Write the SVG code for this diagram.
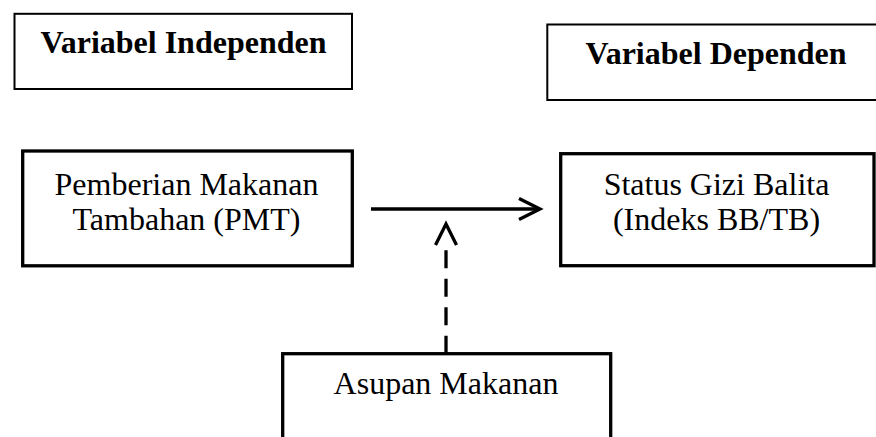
<svg xmlns="http://www.w3.org/2000/svg" width="876" height="437" viewBox="0 0 876 437">
  <style>
    .bg { fill: #ffffff; }
    .thin { fill: #ffffff; stroke: #000000; stroke-width: 2; }
    .thick { fill: #ffffff; stroke: #000000; stroke-width: 3.3; }
    .t { font-family: "Liberation Serif", "Times New Roman", serif; font-size: 32px; fill: #000000; text-anchor: middle; }
    .b { font-weight: bold; }
    .conn { fill: none; stroke: #000000; stroke-width: 3.3; }
    .dash { stroke-dasharray: 18 10.5 18 10.5 18 10.5 18 30; }
  </style>
  <defs>
    <marker id="chev" markerUnits="userSpaceOnUse" markerWidth="30" markerHeight="30" viewBox="-26 -15 30 30" refX="0" refY="0" orient="auto" overflow="visible">
      <path d="M -21 -10.5 L 0 0 L -21 10.5" fill="none" stroke="#000000" stroke-width="3.3" stroke-linejoin="miter" stroke-linecap="butt"/>
    </marker>
  </defs>
  <rect class="bg" x="0" y="0" width="876" height="437"/>

  <g id="variabel-independen">
    <rect class="thin" x="14.5" y="13.8" width="337.5" height="75.2"/>
    <text class="t b" x="183.5" y="53.3">Variabel Independen</text>
  </g>

  <g id="variabel-dependen">
    <rect class="thin" x="547.3" y="24.5" width="340" height="75.5"/>
    <text class="t b" x="716" y="64">Variabel Dependen</text>
  </g>

  <g id="pmt">
    <rect class="thick" x="22.7" y="151" width="329.6" height="114.8"/>
    <text class="t" x="186.5" y="195">Pemberian Makanan</text>
    <text class="t" x="186.5" y="230">Tambahan (PMT)</text>
  </g>

  <g id="status-gizi">
    <rect class="thick" x="560.7" y="153.7" width="313.3" height="112"/>
    <text class="t" x="716.5" y="195">Status Gizi Balita</text>
    <text class="t" x="716.5" y="230">(Indeks BB/TB)</text>
  </g>

  <g id="asupan-makanan">
    <rect class="thick" x="282.7" y="353.7" width="328" height="120"/>
    <text class="t" x="446" y="394.3">Asupan Makanan</text>
  </g>

  <g id="connectors">
    <line class="conn" x1="371" y1="209" x2="540" y2="209" marker-end="url(#chev)"/>
    <line class="conn dash" x1="446" y1="353.7" x2="446" y2="224" marker-end="url(#chev)"/>
  </g>
</svg>
